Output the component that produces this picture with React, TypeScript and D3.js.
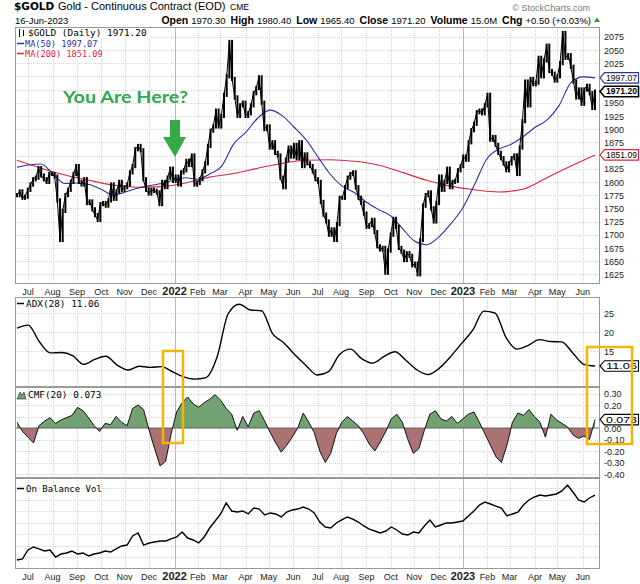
import React from "react";
import * as d3 from "d3";

// ---------- DATA ----------
// Gold continuous contract, ~2.4 trading days per sample, 17-Jun-2021 .. 16-Jun-2023
const goldCloses = [
  1775, 1782, 1770, 1772,
  1785, 1795, 1805, 1808, 1826, 1812, 1805, 1800, 1815,
  1815, 1810, 1765, 1690, 1745, 1775, 1785, 1800, 1815,
  1830, 1800, 1795, 1805, 1760, 1763, 1748, 1737, 1728,
  1758, 1760, 1755, 1765, 1795, 1768, 1782, 1800, 1785,
  1790, 1795, 1818, 1830, 1862, 1868, 1860, 1805, 1785,
  1778, 1785, 1783, 1780, 1758, 1800, 1790, 1808, 1825,
  1802, 1810, 1795, 1818, 1822, 1840, 1832, 1850, 1795,
  1798, 1805, 1820, 1835, 1868, 1897, 1905, 1935, 1905,
  1925, 1965, 2000, 2065, 1995, 1960, 1925, 1945, 1950,
  1925, 1930, 1945, 1968, 1978, 1998, 1950, 1900, 1905,
  1865, 1875, 1855, 1850, 1808, 1790, 1842, 1865, 1848,
  1870, 1845, 1875, 1830, 1852, 1835, 1830, 1820, 1805,
  1800, 1762, 1738, 1725, 1700, 1710, 1690, 1720, 1770,
  1770, 1790, 1808, 1815, 1818, 1790, 1770, 1760, 1740,
  1715, 1718, 1728, 1705, 1678, 1672, 1675, 1628, 1670,
  1700, 1730, 1715, 1675, 1668, 1652, 1665, 1660, 1642,
  1645, 1625, 1690, 1755, 1775, 1780, 1750, 1725, 1760,
  1810, 1785, 1800, 1825, 1790, 1800, 1802, 1822, 1830,
  1848, 1842, 1875, 1898, 1910, 1932, 1935, 1930, 1945,
  1965, 1880, 1885, 1870, 1855, 1845, 1835, 1822, 1835,
  1845, 1850, 1815, 1865, 1915, 1990, 1945, 1995, 1985,
  1988, 2035, 2000, 2030, 2058, 2010, 2005, 1992, 2000,
  2025, 2082, 2035, 2040, 2018, 1990, 1960, 1975, 1948,
  1975, 1982, 1968, 1940, 1971.2,
];

const ma50Values = [
  1828, 1832, 1834, 1815, 1797, 1798, 1795, 1786, 1775, 1781,
  1788, 1793, 1797, 1803, 1808, 1805, 1815, 1830, 1872, 1894,
  1921, 1936, 1926, 1904, 1880, 1847, 1815, 1792, 1780, 1762,
  1748, 1736, 1712, 1688, 1681, 1695, 1720, 1750, 1795, 1843,
  1862, 1871, 1885, 1903, 1917, 1944, 1988, 1999, 1997.07,
];

const ma200Values = [
  1841, 1826, 1813, 1803, 1794, 1790, 1791, 1798, 1809, 1816,
  1826, 1835, 1841, 1842, 1839, 1832, 1818, 1803, 1792, 1785,
  1781, 1786, 1808, 1830, 1851.09,
];

const adxValues = [
  21.0, 21.8, 17.5, 14.5, 14.6, 13.8, 11.5, 12.8, 13.6, 11.3,
  10.0, 11.0, 10.7, 10.9, 9.5, 8.2, 7.6, 8.0, 13.4, 24.8,
  27.3, 25.8, 25.6, 19.5, 17.2, 14.0, 11.2, 8.7, 9.5, 14.0,
  15.5, 13.0, 11.8, 13.5, 14.8, 12.5, 10.0, 8.8, 10.5, 13.5,
  17.0, 20.5, 25.5, 25.0, 18.5, 15.5, 16.5, 18.0, 17.5, 17.4,
  14.5, 11.5, 11.06,
];

const cmfValues = [
  0.05, -0.03, -0.08, -0.13, 0.02, 0.06, 0.09, 0.04, 0.07, 0.09,
  0.11, 0.18, 0.15, 0.09, 0.02, -0.03, 0.04, 0.03, 0.10, 0.05,
  0.02, 0.17, 0.20, 0.16, -0.02, -0.18, -0.33, -0.29, -0.05, 0.14,
  0.22, 0.27, 0.21, 0.18, 0.22, 0.25, 0.29, 0.24, 0.17, 0.12,
  -0.02, 0.10, 0.01, 0.13, 0.15, 0.06, -0.04, -0.13, -0.21, -0.15,
  -0.08, 0.0, 0.13, 0.05, -0.04, -0.20, -0.30, -0.22, -0.05, 0.05,
  0.10, 0.06, 0.02, -0.05, -0.14, -0.20, -0.12, -0.03, 0.08, 0.12,
  0.05, -0.10, -0.22, -0.18, -0.02, 0.12, 0.15, 0.08, 0.06, 0.10,
  0.04, 0.08, 0.12, 0.14, 0.05, -0.05, -0.15, -0.25, -0.30, -0.15,
  0.05, 0.13, 0.11, 0.16, 0.10, 0.05, -0.08, 0.12, 0.07, 0.04,
  0.01, -0.06, -0.09, -0.07, -0.10, 0.073,
];

const obvValues = [
  -2.6, -1.7, 6.1, 8.7, 7.0, 5.2, 6.1, 0.0, 2.6, 3.5,
  5.2, 2.6, 3.5, 0.9, 2.6, 3.5, 5.2, 4.3, 7.0, 9.6,
  10.4, 18.3, 20.9, 10.4, 12.2, 13.0, 13.9, 13.9, 15.7, 17.4,
  21.7, 16.5, 14.8, 12.2, 17.4, 25.2, 31.3, 37.4, 47.0, 40.0,
  39.1, 40.0, 37.4, 42.6, 41.7, 36.5, 38.3, 37.4, 34.8, 39.1,
  40.9, 41.7, 43.5, 41.7, 38.3, 30.4, 26.1, 25.2, 29.6, 32.2,
  34.8, 33.0, 30.4, 27.0, 24.3, 22.6, 20.9, 22.6, 26.1, 23.5,
  20.0, 19.1, 21.7, 20.9, 27.0, 32.2, 26.1, 27.8, 29.6, 29.6,
  30.4, 31.3, 35.7, 40.0, 45.2, 47.8, 46.1, 44.3, 42.6, 35.7,
  37.4, 39.1, 45.2, 49.6, 52.2, 53.9, 53.0, 53.9, 54.8, 57.4,
  62.6, 56.5, 49.6, 47.8, 51.3, 53.9,
];

const priceTicks = [1625, 1650, 1675, 1700, 1725, 1750, 1775, 1800, 1825, 1850, 1875, 1900, 1925, 1950, 1975, 2000, 2025, 2050, 2075];
const adxTicks = [10, 15, 20, 25];
const cmfTicks = [0.3, 0.2, 0.1, 0, -0.1, -0.2, -0.3, -0.4];
const obvGrid = [0, 10, 20, 30, 40, 50, 60];
const headerFields = [
  ["Open", "1970.30"], ["High", "1980.40"], ["Low", "1965.40"],
  ["Close", "1971.20"], ["Volume", "15.0M"], ["Chg", "+0.50 (+0.03%)"],
];
const lastClose = "1971.20";
const ma50Last = "1997.07";
const ma200Last = "1851.09";
const adxLast = "11.06";
const cmfLast = "0.073";

// ---------- LAYOUT ----------
const L = 15, R = 600, X0 = 17, X1 = 595;
const PRICE = { top: 27, bottom: 284 };
const ADX = { top: 297, bottom: 387 };
const CMF = { top: 387, bottom: 478 };
const OBV = { top: 478, bottom: 569 };
const SANS = "'Liberation Sans', Arial, sans-serif";
const MONO = "'DejaVu Sans Mono', monospace";

const START = new Date(2021, 5, 17);
const END = new Date(2023, 5, 16);
const weekdays: Date[] = [];
for (let d = new Date(START); d <= END; d.setDate(d.getDate() + 1)) {
  const w = d.getDay();
  if (w !== 0 && w !== 6) weekdays.push(new Date(d));
}
const xDay = d3.scaleLinear().domain([0, weekdays.length - 1]).range([X0, X1]);
const months: { x: number; label: string; year: boolean }[] = [];
weekdays.forEach((d, i) => {
  if (i > 0 && d.getMonth() !== weekdays[i - 1].getMonth()) {
    const jan = d.getMonth() === 0;
    months.push({ x: xDay(i), label: jan ? d3.timeFormat("%Y")(d) : d3.timeFormat("%b")(d), year: jan });
  }
});
const xs = (n: number) => d3.scaleLinear().domain([0, n - 1]).range([X0, X1]);

const yPrice = d3.scaleLinear().domain([1625, 2075]).range([274.3, 36.7]);
const yAdx = d3.scaleLinear().domain([10, 25]).range([370, 313]);
const yCmf = d3.scaleLinear().domain([-0.4, 0.3]).range([474, 393.5]);
const yObv = d3.scaleLinear().domain([0, 60]).range([557, 488]);

const GRID = "#d4d4d4";

function Panel({ top, bottom, hVals, y }: { top: number; bottom: number; hVals: number[]; y: (v: number) => number }) {
  return (
    <g>
      <rect x={L} y={top} width={R - L} height={bottom - top} fill="#fff" />
      {hVals.map((v, i) => {
        const yy = Math.round(y(v)) + 0.5;
        return yy > top && yy < bottom ? (
          <line key={"h" + i} x1={L} x2={R} y1={yy} y2={yy} stroke={GRID} strokeDasharray="1,1" />
        ) : null;
      })}
      {months.map((m, i) => (
        <line key={"v" + i} x1={Math.round(m.x) + 0.5} x2={Math.round(m.x) + 0.5} y1={top} y2={bottom}
          stroke={m.year ? "#b8b8b8" : GRID} strokeDasharray={m.year ? undefined : "1,1"} />
      ))}
    </g>
  );
}

function Border({ top, bottom }: { top: number; bottom: number }) {
  return <rect x={L + 0.5} y={top + 0.5} width={R - L - 1} height={bottom - top - 1} fill="none" stroke="#9a9a9a" />;
}

function Tag({ y, text, color, bold }: { y: number; text: string; color: string; bold?: boolean }) {
  const h = 10.5, x0 = 600, xb = 604.5, x1 = 638.5;
  return (
    <g>
      <path d={`M${x0},${y} L${xb},${y - h / 2} L${x1},${y - h / 2} L${x1},${y + h / 2} L${xb},${y + h / 2} Z`}
        fill="#fff" stroke={color} strokeWidth={bold ? 1.6 : 1.1} />
      <text x={621.5} y={y} dy="0.35em" fontSize={8.5} fontWeight={bold ? 700 : 400} fill="#000" fontFamily={SANS}
        textAnchor="middle" textLength={31} lengthAdjust="spacingAndGlyphs">{text}</text>
    </g>
  );
}

function AxisLabels({ ticks, y, fmt, hide }: { ticks: number[]; y: (v: number) => number; fmt: (v: number) => string; hide: number[] }) {
  return (
    <g fontSize={9} fill="#222">
      {ticks.filter((t) => hide.every((h) => Math.abs(y(t) - h) > 7)).map((t) => (
        <text key={t} x={604} y={y(t)} dy="0.4em">{fmt(t)}</text>
      ))}
    </g>
  );
}

function MonthLabels({ y }: { y: number }) {
  return (
    <g fontFamily={SANS} fill="#222">
      {months.map((m, i) => (
        <text key={i} x={m.x} y={y} textAnchor="middle" fontSize={m.year ? 11 : 9} fontWeight={m.year ? 700 : 400}>{m.label}</text>
      ))}
    </g>
  );
}

export default function App() {
  const xp = xs(goldCloses.length);
  const bars = goldCloses.map((c, i) => {
    const prev = i > 0 ? goldCloses[i - 1] : c;
    return { x: xp(i), hi: Math.max(prev, c) + 4, lo: Math.min(prev, c) - 4 };
  });
  const ma50Line = d3.line<number>().x((_, i) => xs(ma50Values.length)(i)).y((v) => yPrice(v)).curve(d3.curveMonotoneX);
  const ma200Line = d3.line<number>().x((_, i) => xs(ma200Values.length)(i)).y((v) => yPrice(v)).curve(d3.curveMonotoneX);
  const adxLine = d3.line<number>().x((_, i) => xs(adxValues.length)(i)).y((v) => yAdx(v)).curve(d3.curveMonotoneX);
  const xc = xs(cmfValues.length);
  const cmfLine = d3.line<number>().x((_, i) => xc(i)).y((v) => yCmf(v));
  const cmfArea = d3.area<number>().x((_, i) => xc(i)).y0(yCmf(0)).y1((v) => yCmf(v));
  const obvLine = d3.line<number>().x((_, i) => xs(obvValues.length)(i)).y((v) => yObv(v));
  const closeLine = d3.line<number>().x((_, i) => xp(i)).y((v) => yPrice(v));

  const priceTags = [+ma50Last, +lastClose, +ma200Last].map((v) => yPrice(v));

  return (
    <svg width={640} height={584} style={{ position: "absolute", left: 0, top: 0 }} fontFamily={SANS}>
      <rect width={640} height={584} fill="#fff" />
      {/* header */}
      <text x={14} y={10} fontFamily="'DejaVu Sans', sans-serif" fontWeight={700} fontSize={10.5}>$GOLD</text>
      <text x={58} y={10} fontSize={11}>Gold - Continuous Contract (EOD)</text>
      <text x={230} y={10} fontSize={8.5}>CME</text>
      <text x={590} y={11} fontSize={9} fill="#777" textAnchor="end">© StockCharts.com</text>
      <text x={15} y={24} fontSize={9.5}>16-Jun-2023</text>
      <text x={591} y={24} textAnchor="end" fontSize={9.5}>
        {headerFields.map(([k, v], i) => (
          <React.Fragment key={k}>
            <tspan fontWeight={700} fontSize={10.5} dx={i === 0 ? 0 : 5}>{k}</tspan>
            <tspan dx={3}>{v}</tspan>
          </React.Fragment>
        ))}
      </text>
      <path d="M594,22 L597,17.5 L600,22 Z" fill="#2a9a2a" />

      {/* price panel */}
      <Panel top={PRICE.top} bottom={PRICE.bottom} hVals={priceTicks} y={yPrice} />
      <path d={ma200Line(ma200Values) || ""} fill="none" stroke="#e0243c" strokeWidth={1.1} />
      <path d={ma50Line(ma50Values) || ""} fill="none" stroke="#2b2fa8" strokeWidth={1.1} />
      <g stroke="#000" strokeWidth={2}>
        {bars.map((b, i) => (
          <line key={i} x1={b.x} x2={b.x} y1={yPrice(b.hi)} y2={yPrice(b.lo)} />
        ))}
      </g>
      <path d={closeLine(goldCloses) || ""} fill="none" stroke="#000" strokeWidth={1} />
      <Border top={PRICE.top} bottom={PRICE.bottom} />
      {/* legend */}
      <rect x={16} y={28} width={134} height={10} fill="#fff" />
      <rect x={16} y={38} width={84} height={20} fill="#fff" />
      <g stroke="#000" strokeWidth={1}>
        <line x1={19.5} x2={19.5} y1={29} y2={37} />
        <line x1={23.5} x2={23.5} y1={30} y2={36} />
      </g>
      <text x={28} y={36} fontFamily={MONO} fontSize={9.4}>$GOLD (Daily) {lastClose}</text>
      <line x1={17} x2={24} y1={43.5} y2={43.5} stroke="#2b2fa8" strokeWidth={1.5} />
      <text x={25} y={46.5} fontFamily={MONO} fontSize={8.6} fill="#2b2fa8">MA(50) {ma50Last}</text>
      <line x1={17} x2={24} y1={53.5} y2={53.5} stroke="#e0243c" strokeWidth={1.5} />
      <text x={25} y={56.5} fontFamily={MONO} fontSize={8.6} fill="#e0243c">MA(200) {ma200Last}</text>
      {/* price axis */}
      <AxisLabels ticks={priceTicks} y={yPrice} fmt={(t) => String(t)} hide={priceTags} />
      <Tag y={yPrice(+ma50Last)} text={ma50Last} color="#2b2fa8" />
      <Tag y={yPrice(+lastClose)} text={lastClose} color="#000" bold />
      <Tag y={yPrice(+ma200Last)} text={ma200Last} color="#e0243c" />
      <MonthLabels y={295} />

      {/* annotation */}
      <text x={63} y={103} fontFamily="Lato, 'Open Sans', sans-serif" fontWeight={700} fontSize={17} fill="#2eaa4d" textLength={125} lengthAdjust="spacingAndGlyphs">You Are Here?</text>
      <path d="M170,120 L180,120 L180,137 L186,137 L175,157 L163,137 L170,137 Z" fill="#34aa46" />

      {/* ADX */}
      <Panel top={ADX.top} bottom={ADX.bottom} hVals={adxTicks} y={yAdx} />
      <path d={adxLine(adxValues) || ""} fill="none" stroke="#000" strokeWidth={1.4} />
      <Border top={ADX.top} bottom={ADX.bottom} />
      <line x1={17} x2={24} y1={303.5} y2={303.5} stroke="#000" strokeWidth={1.5} />
      <text x={26} y={306.5} fontFamily={MONO} fontSize={9.4}>ADX(28) {adxLast}</text>
      <AxisLabels ticks={adxTicks} y={yAdx} fmt={(t) => String(t)} hide={[yAdx(+adxLast)]} />
      <Tag y={yAdx(+adxLast)} text={adxLast} color="#000" />

      {/* CMF */}
      <Panel top={CMF.top} bottom={CMF.bottom} hVals={cmfTicks} y={yCmf} />
      <defs>
        <clipPath id="cmfPos"><rect x={L} y={CMF.top} width={R - L} height={yCmf(0) - CMF.top} /></clipPath>
        <clipPath id="cmfNeg"><rect x={L} y={yCmf(0)} width={R - L} height={CMF.bottom - yCmf(0)} /></clipPath>
      </defs>
      <path d={cmfArea(cmfValues) || ""} fill="#72a172" clipPath="url(#cmfPos)" />
      <path d={cmfArea(cmfValues) || ""} fill="#aa7272" clipPath="url(#cmfNeg)" />
      <line x1={L} x2={R} y1={yCmf(0)} y2={yCmf(0)} stroke="#555" strokeWidth={0.8} />
      <path d={cmfLine(cmfValues) || ""} fill="none" stroke="#111" strokeWidth={1} />
      <Border top={CMF.top} bottom={CMF.bottom} />
      <path d="M17,399 L20,392 L22,395 L24,392 L26,399 Z" fill="#72a172" stroke="#222" strokeWidth={0.6} />
      <text x={28} y={397.5} fontFamily={MONO} fontSize={9.4}>CMF(20) {cmfLast}</text>
      <AxisLabels ticks={cmfTicks} y={yCmf} fmt={(t) => t.toFixed(2)} hide={[yCmf(+cmfLast)]} />
      <Tag y={yCmf(+cmfLast)} text={cmfLast} color="#000" />

      {/* OBV */}
      <Panel top={OBV.top} bottom={OBV.bottom} hVals={obvGrid} y={yObv} />
      <path d={obvLine(obvValues) || ""} fill="none" stroke="#000" strokeWidth={1.4} />
      <Border top={OBV.top} bottom={OBV.bottom} />
      <line x1={17} x2={24} y1={488.5} y2={488.5} stroke="#000" strokeWidth={1.5} />
      <text x={26} y={491.5} fontFamily={MONO} fontSize={9}>On Balance Vol</text>
      <MonthLabels y={580} />

      {/* highlight boxes */}
      <rect x={163} y={351} width={20} height={92} fill="none" stroke="#f5b400" strokeWidth={2.5} />
      <rect x={587} y={347} width={45} height={97} fill="none" stroke="#f5b400" strokeWidth={2.5} />
    </svg>
  );
}
